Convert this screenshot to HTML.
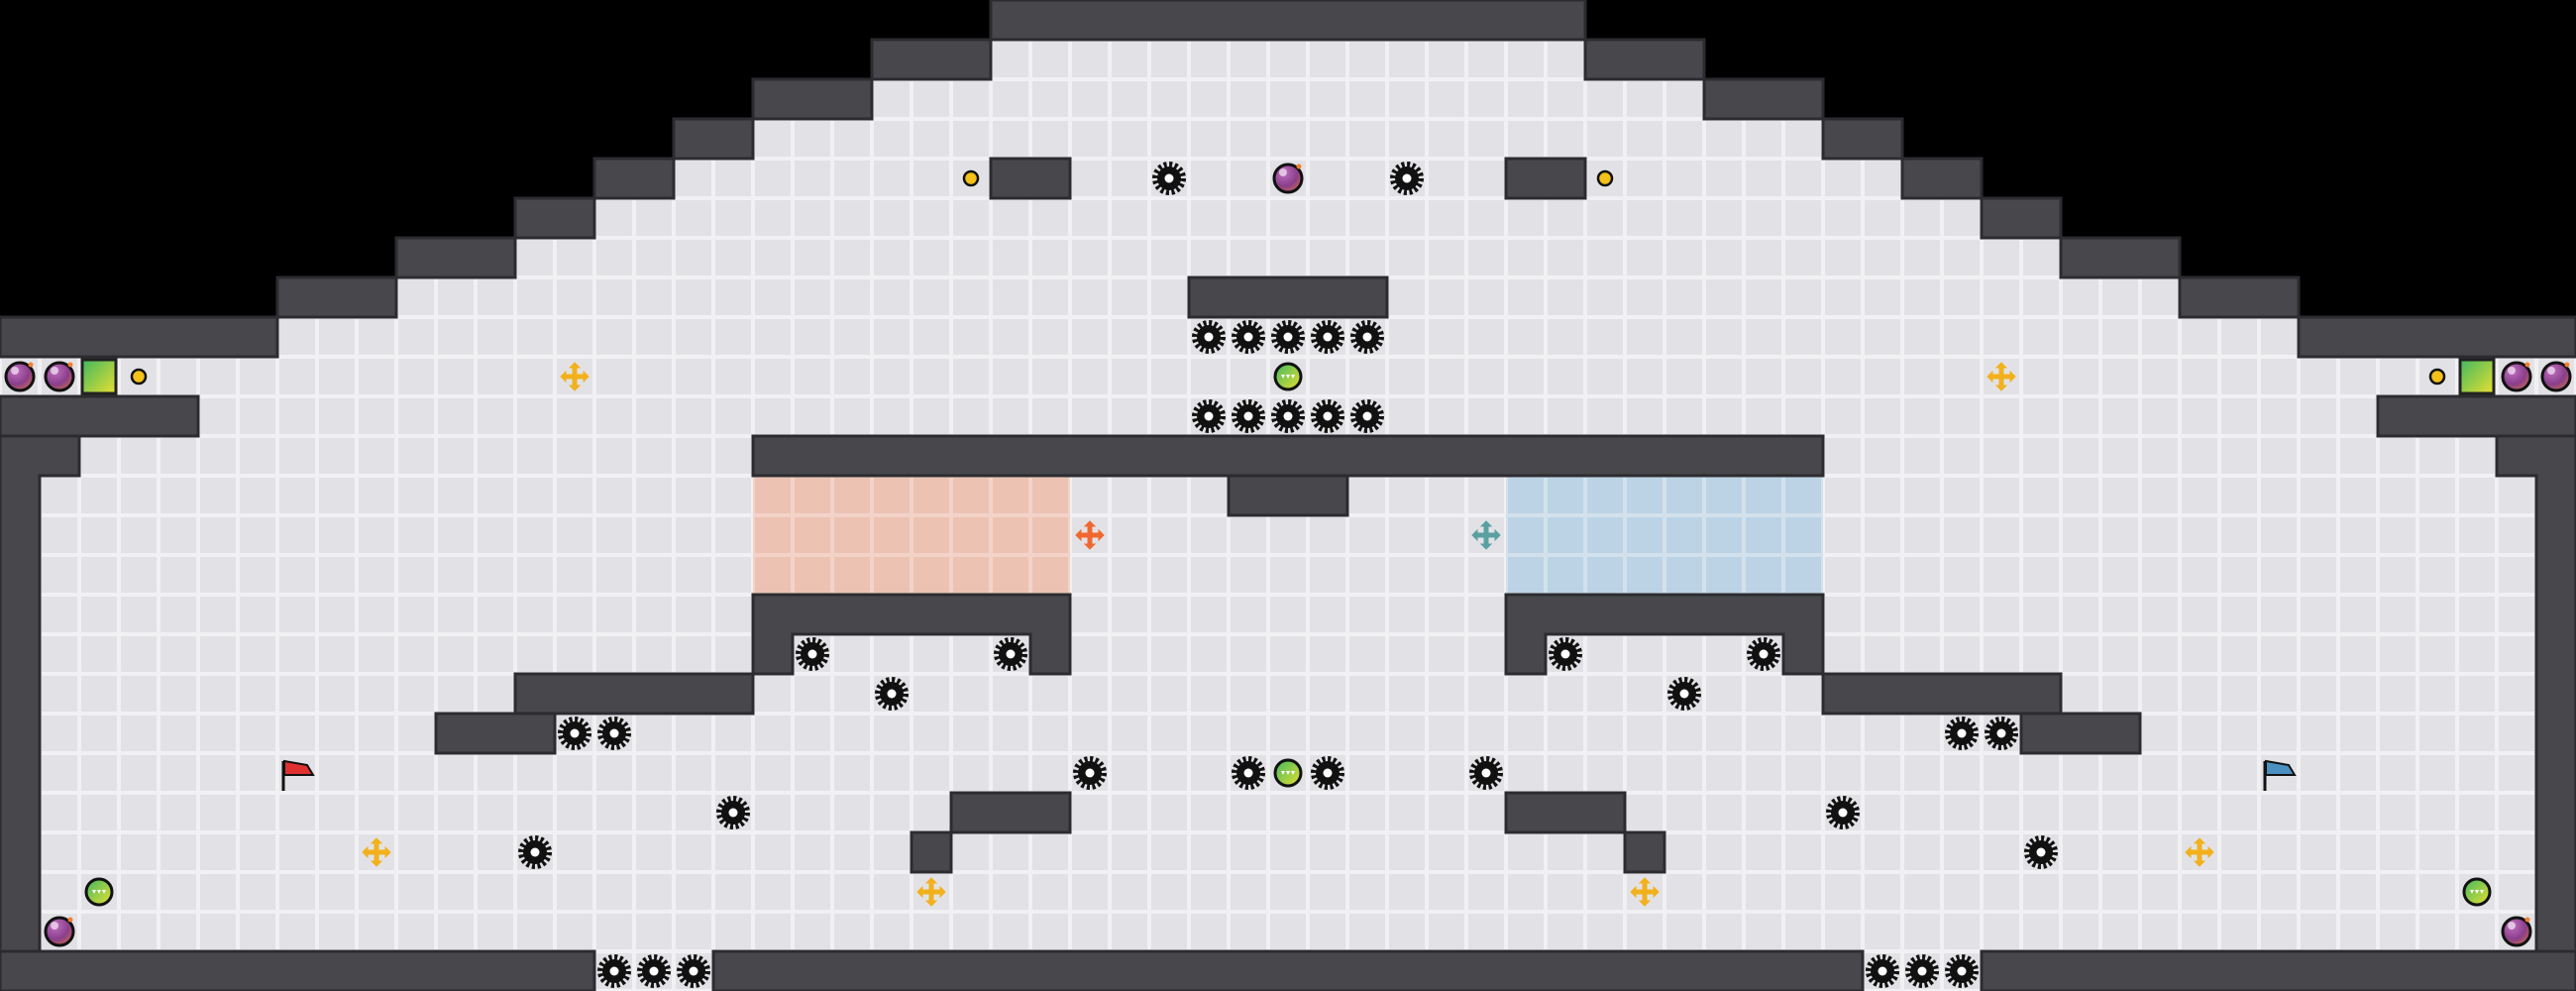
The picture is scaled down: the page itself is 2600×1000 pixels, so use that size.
<!DOCTYPE html>
<html><head><style>html,body{margin:0;padding:0;background:#000;}svg{display:block}</style></head>
<body>
<svg width="2600" height="1000" viewBox="0 0 2600 1000" xmlns="http://www.w3.org/2000/svg">
<defs>
<pattern id="fl" width="40" height="40" patternUnits="userSpaceOnUse">
<rect width="40" height="40" fill="#f1f1f4"/><rect x="2" y="2" width="36" height="36" fill="#e2e2e6"/>
</pattern>
<pattern id="red" width="40" height="40" patternUnits="userSpaceOnUse">
<rect width="40" height="40" fill="#f3d3c8"/><rect x="2" y="2" width="36" height="36" fill="#ecc2b3"/>
</pattern>
<pattern id="blue" width="40" height="40" patternUnits="userSpaceOnUse">
<rect width="40" height="40" fill="#d3e1ec"/><rect x="2" y="2" width="36" height="36" fill="#bcd3e6"/>
</pattern>
<radialGradient id="pg" cx="0.35" cy="0.3" r="0.8"><stop offset="0" stop-color="#c070c0"/><stop offset="0.6" stop-color="#8a3e8a"/><stop offset="1" stop-color="#c86a50"/></radialGradient>
<linearGradient id="gg" x1="0" y1="0" x2="1" y2="1"><stop offset="0" stop-color="#3fb860"/><stop offset="1" stop-color="#e8e030"/></linearGradient>
<g id="sp"><circle r="14" fill="none" stroke="#111" stroke-width="6" stroke-dasharray="3 2.5"/><circle r="12" fill="#111"/><circle r="4.5" fill="#fff"/></g>
<g id="pb"><circle r="14" fill="url(#pg)" stroke="#111" stroke-width="3"/><circle cx="-5" cy="-6" r="4" fill="#fff" opacity="0.6"/><circle cx="11" cy="-12" r="2.5" fill="#f08030"/></g>
<g id="gb"><circle r="13" fill="url(#gg)" stroke="#111" stroke-width="3"/><path d="M-7,-2 L-3,-2 L-5,2Z M-2,-2 L2,-2 L0,2Z M3,-2 L7,-2 L5,2Z" fill="#fff"/></g>
<g id="pt"><rect x="-17" y="-17" width="34" height="34" fill="url(#gg)" stroke="#222" stroke-width="3"/></g>
<g id="yd"><circle r="7" fill="#f4c01a" stroke="#111" stroke-width="2.5"/></g>
<g id="yb" stroke="#f2b11c" stroke-width="5"><path d="M-12,0H12M0,-12V12"/><path d="M-14,0l5,-5v10z M14,0l-5,-5v10z M0,-14l-5,5h10z M0,14l-5,-5h10z" fill="#f2b11c" stroke-width="1"/></g>
<g id="ob" stroke="#f06830" stroke-width="5"><path d="M-12,0H12M0,-12V12"/><path d="M-14,0l5,-5v10z M14,0l-5,-5v10z M0,-14l-5,5h10z M0,14l-5,-5h10z" fill="#f06830" stroke-width="1"/></g>
<g id="tb" stroke="#5aa0a0" stroke-width="5"><path d="M-12,0H12M0,-12V12"/><path d="M-14,0l5,-5v10z M14,0l-5,-5v10z M0,-14l-5,5h10z M0,14l-5,-5h10z" fill="#5aa0a0" stroke-width="1"/></g>
</defs>
<!-- floors -->
<g fill="url(#fl)">
<rect x="1000" y="40" width="600" height="40"/>
<rect x="880" y="80" width="840" height="40"/>
<rect x="760" y="120" width="1080" height="40"/>
<rect x="680" y="160" width="1240" height="40"/>
<rect x="600" y="200" width="1400" height="40"/>
<rect x="520" y="240" width="1560" height="40"/>
<rect x="400" y="280" width="1800" height="40"/>
<rect x="280" y="320" width="2040" height="40"/>
<rect x="0" y="360" width="2600" height="640"/>
</g>
<rect x="760" y="480" width="320" height="120" fill="url(#red)"/>
<rect x="1520" y="480" width="320" height="120" fill="url(#blue)"/>
<!-- walls -->
<g fill="#48474c" stroke="#2c2c30" stroke-width="3">
<rect x="1000" y="0" width="600" height="40"/>
<rect x="880" y="40" width="120" height="40"/><rect x="1600" y="40" width="120" height="40"/>
<rect x="760" y="80" width="120" height="40"/><rect x="1720" y="80" width="120" height="40"/>
<rect x="680" y="120" width="80" height="40"/><rect x="1840" y="120" width="80" height="40"/>
<rect x="600" y="160" width="80" height="40"/><rect x="1920" y="160" width="80" height="40"/>
<rect x="1000" y="160" width="80" height="40"/><rect x="1520" y="160" width="80" height="40"/>
<rect x="520" y="200" width="80" height="40"/><rect x="2000" y="200" width="80" height="40"/>
<rect x="400" y="240" width="120" height="40"/><rect x="2080" y="240" width="120" height="40"/>
<rect x="280" y="280" width="120" height="40"/><rect x="2200" y="280" width="120" height="40"/>
<rect x="1200" y="280" width="200" height="40"/>
<rect x="0" y="320" width="280" height="40"/><rect x="2320" y="320" width="280" height="40"/>
<rect x="0" y="400" width="200" height="40"/><rect x="2400" y="400" width="200" height="40"/>
<path d="M0,440H80V480H40V1000H0Z"/><path d="M2600,440H2520V480H2560V1000H2600Z"/>
<rect x="760" y="440" width="1080" height="40"/>
<rect x="1240" y="480" width="120" height="40"/>
<path d="M760,600H1080V680H1040V640H800V680H760Z"/>
<path d="M1520,600H1840V680H1800V640H1560V680H1520Z"/>
<rect x="520" y="680" width="240" height="40"/>
<rect x="1840" y="680" width="240" height="40"/>
<rect x="440" y="720" width="120" height="40"/>
<rect x="2040" y="720" width="120" height="40"/>
<rect x="960" y="800" width="120" height="40"/>
<rect x="1520" y="800" width="120" height="40"/>
<rect x="920" y="840" width="40" height="40"/>
<rect x="1640" y="840" width="40" height="40"/>
<rect x="0" y="960" width="600" height="40"/>
<rect x="720" y="960" width="1160" height="40"/>
<rect x="2000" y="960" width="600" height="40"/>
</g>
<!-- spikes -->
<g>
<use href="#sp" x="1180" y="180"/><use href="#sp" x="1420" y="180"/>
<use href="#sp" x="1220" y="340"/><use href="#sp" x="1260" y="340"/><use href="#sp" x="1300" y="340"/><use href="#sp" x="1340" y="340"/><use href="#sp" x="1380" y="340"/>
<use href="#sp" x="1220" y="420"/><use href="#sp" x="1260" y="420"/><use href="#sp" x="1300" y="420"/><use href="#sp" x="1340" y="420"/><use href="#sp" x="1380" y="420"/>
<use href="#sp" x="820" y="660"/><use href="#sp" x="1020" y="660"/><use href="#sp" x="1580" y="660"/><use href="#sp" x="1780" y="660"/>
<use href="#sp" x="900" y="700"/><use href="#sp" x="1700" y="700"/>
<use href="#sp" x="580" y="740"/><use href="#sp" x="620" y="740"/><use href="#sp" x="1980" y="740"/><use href="#sp" x="2020" y="740"/>
<use href="#sp" x="1100" y="780"/><use href="#sp" x="1260" y="780"/><use href="#sp" x="1340" y="780"/><use href="#sp" x="1500" y="780"/>
<use href="#sp" x="740" y="820"/><use href="#sp" x="1860" y="820"/>
<use href="#sp" x="540" y="860"/><use href="#sp" x="2060" y="860"/>
<use href="#sp" x="620" y="980"/><use href="#sp" x="660" y="980"/><use href="#sp" x="700" y="980"/>
<use href="#sp" x="1900" y="980"/><use href="#sp" x="1940" y="980"/><use href="#sp" x="1980" y="980"/>
</g>
<use href="#pb" x="1300" y="180"/><use href="#pb" x="20" y="380"/><use href="#pb" x="60" y="380"/><use href="#pb" x="2540" y="380"/><use href="#pb" x="2580" y="380"/><use href="#pb" x="60" y="940"/><use href="#pb" x="2540" y="940"/>
<use href="#pt" x="100" y="380"/><use href="#pt" x="2500" y="380"/>
<use href="#yd" x="980" y="180"/><use href="#yd" x="1620" y="180"/><use href="#yd" x="140" y="380"/><use href="#yd" x="2460" y="380"/>
<use href="#gb" x="1300" y="380"/><use href="#gb" x="1300" y="780"/><use href="#gb" x="100" y="900"/><use href="#gb" x="2500" y="900"/>
<use href="#yb" x="580" y="380"/><use href="#yb" x="2020" y="380"/><use href="#yb" x="380" y="860"/><use href="#yb" x="2220" y="860"/><use href="#yb" x="940" y="900"/><use href="#yb" x="1660" y="900"/>
<use href="#ob" x="1100" y="540"/><use href="#tb" x="1500" y="540"/>
<g stroke="#111" stroke-width="3"><line x1="286" y1="768" x2="286" y2="798"/><line x1="2286" y1="768" x2="2286" y2="798"/></g>
<path d="M287,768 L310,772 L316,782 L287,782Z" fill="#e03030" stroke="#111" stroke-width="2"/>
<path d="M2287,768 L2310,772 L2316,782 L2287,782Z" fill="#4a90c0" stroke="#111" stroke-width="2"/>
</svg>
</body></html>
